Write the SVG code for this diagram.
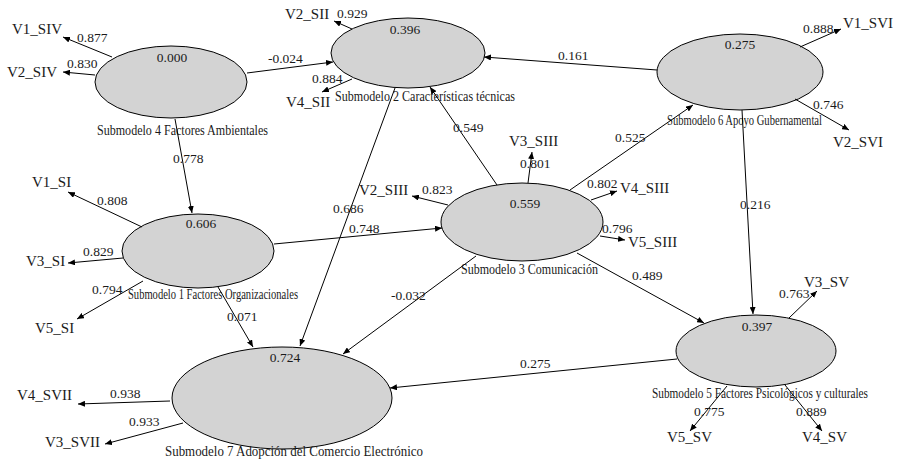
<svg xmlns="http://www.w3.org/2000/svg" width="898" height="467" viewBox="0 0 898 467" font-family="'Liberation Serif', serif">
<style>
.bg{fill:#fff}
.node ellipse{fill:#d3d3d3;stroke:#000;stroke-width:1}
text{font-family:'Liberation Serif','Times New Roman',serif;fill:#1a1a1a}
.v{font-size:15px}
.n{font-size:13.5px}
.t{font-size:15px}
.c line{stroke:#000;stroke-width:1;marker-end:url(#ah)}
</style>
<defs>
<marker id="ah" markerUnits="userSpaceOnUse" markerWidth="8" markerHeight="6" refX="7" refY="3" orient="auto">
<path d="M0,0 L7,3 L0,6 Z" fill="#000"/>
</marker>
</defs>
<rect class="bg" x="0" y="0" width="898" height="467"/>

<g id="e4" class="node">
<ellipse cx="171" cy="82" rx="76" ry="36"/>
<text class="n" x="172" y="62" text-anchor="middle">0.000</text>
<text class="t" x="97" y="135" textLength="171" lengthAdjust="spacingAndGlyphs">Submodelo 4 Factores Ambientales</text>
</g>
<g id="e2" class="node">
<ellipse cx="408" cy="53" rx="77" ry="35"/>
<text class="n" x="405" y="34" text-anchor="middle">0.396</text>
<text class="t" x="335" y="101" textLength="180" lengthAdjust="spacingAndGlyphs">Submodelo 2 Características técnicas</text>
</g>
<g id="e6" class="node">
<ellipse cx="740" cy="72" rx="83" ry="38"/>
<text class="n" x="740" y="49" text-anchor="middle">0.275</text>
<text class="t" x="667" y="125" textLength="155" lengthAdjust="spacingAndGlyphs">Submodelo 6 Apoyo Gubernamental</text>
</g>
<g id="e1" class="node">
<ellipse cx="198" cy="251" rx="76" ry="37"/>
<text class="n" x="201" y="228" text-anchor="middle">0.606</text>
<text class="t" x="128" y="299" textLength="170" lengthAdjust="spacingAndGlyphs">Submodelo 1 Factores Organizacionales</text>
</g>
<g id="e3" class="node">
<ellipse cx="522" cy="222" rx="81" ry="39"/>
<text class="n" x="525" y="208" text-anchor="middle">0.559</text>
<text class="t" x="461" y="274" textLength="137" lengthAdjust="spacingAndGlyphs">Submodelo 3 Comunicación</text>
</g>
<g id="e5" class="node">
<ellipse cx="756" cy="351" rx="80" ry="36"/>
<text class="n" x="757" y="331" text-anchor="middle">0.397</text>
<text class="t" x="652" y="398" textLength="216" lengthAdjust="spacingAndGlyphs">Submodelo 5 Factores Psicológicos y culturales</text>
</g>
<g id="e7" class="node">
<ellipse cx="282" cy="398" rx="110" ry="51"/>
<text class="n" x="285" y="362" text-anchor="middle">0.724</text>
<text class="t" x="165" y="456" textLength="258" lengthAdjust="spacingAndGlyphs">Submodelo 7 Adopción del Comercio Electrónico</text>
</g>

<g id="indicators">
<text class="v" x="12" y="34">V1_SIV</text>
<text class="v" x="7" y="77">V2_SIV</text>
<text class="v" x="285" y="19">V2_SII</text>
<text class="v" x="286" y="107">V4_SII</text>
<text class="v" x="843" y="28">V1_SVI</text>
<text class="v" x="833" y="147">V2_SVI</text>
<text class="v" x="32" y="187">V1_SI</text>
<text class="v" x="26" y="266">V3_SI</text>
<text class="v" x="35" y="333">V5_SI</text>
<text class="v" x="509" y="146">V3_SIII</text>
<text class="v" x="359" y="195">V2_SIII</text>
<text class="v" x="620" y="193">V4_SIII</text>
<text class="v" x="628" y="247">V5_SIII</text>
<text class="v" x="804" y="287">V3_SV</text>
<text class="v" x="667" y="442">V5_SV</text>
<text class="v" x="802" y="442">V4_SV</text>
<text class="v" x="17" y="400">V4_SVII</text>
<text class="v" x="45" y="447">V3_SVII</text>
</g>

<g id="connectors" class="c">
<line x1="112" y1="57" x2="63" y2="37"/>
<line x1="95" y1="75" x2="63" y2="72"/>
<line x1="247" y1="73" x2="333" y2="62"/>
<line x1="175" y1="119" x2="192" y2="213"/>
<line x1="352" y1="29" x2="334" y2="21"/>
<line x1="352" y1="79" x2="322" y2="92"/>
<line x1="657" y1="70" x2="484" y2="57"/>
<line x1="800" y1="47" x2="841" y2="29"/>
<line x1="795" y1="99" x2="849" y2="130"/>
<line x1="570" y1="190" x2="693" y2="105"/>
<line x1="742" y1="110" x2="753" y2="314"/>
<line x1="142" y1="227" x2="68" y2="192"/>
<line x1="123" y1="258" x2="68" y2="263"/>
<line x1="143" y1="281" x2="77" y2="319"/>
<line x1="274" y1="244" x2="442" y2="228"/>
<line x1="218" y1="287" x2="253" y2="347"/>
<line x1="395" y1="88" x2="300" y2="346"/>
<line x1="497" y1="185" x2="430" y2="87"/>
<line x1="528" y1="183" x2="532" y2="152"/>
<line x1="448" y1="205" x2="412" y2="196"/>
<line x1="591" y1="200" x2="617" y2="191"/>
<line x1="600" y1="236" x2="625" y2="240"/>
<line x1="476" y1="256" x2="343" y2="354"/>
<line x1="577" y1="253" x2="704" y2="323"/>
<line x1="677" y1="359" x2="390" y2="388"/>
<line x1="789" y1="318" x2="817" y2="291"/>
<line x1="727" y1="386" x2="690" y2="431"/>
<line x1="785" y1="385" x2="822" y2="431"/>
<line x1="170" y1="401" x2="78" y2="404"/>
<line x1="183" y1="423" x2="105" y2="444"/>
</g>

<g id="labels">
<text class="n" x="77" y="42">0.877</text>
<text class="n" x="67" y="68">0.830</text>
<text class="n" x="268" y="63">-0.024</text>
<text class="n" x="173" y="163">0.778</text>
<text class="n" x="337" y="18">0.929</text>
<text class="n" x="312" y="83">0.884</text>
<text class="n" x="558" y="60">0.161</text>
<text class="n" x="803" y="33">0.888</text>
<text class="n" x="813" y="109">0.746</text>
<text class="n" x="615" y="142">0.525</text>
<text class="n" x="740" y="209">0.216</text>
<text class="n" x="97" y="205">0.808</text>
<text class="n" x="83" y="256">0.829</text>
<text class="n" x="92" y="294">0.794</text>
<text class="n" x="349" y="233">0.748</text>
<text class="n" x="227" y="321">0.071</text>
<text class="n" x="333" y="213">0.686</text>
<text class="n" x="453" y="132">0.549</text>
<text class="n" x="520" y="168">0.801</text>
<text class="n" x="422" y="194">0.823</text>
<text class="n" x="587" y="188">0.802</text>
<text class="n" x="602" y="233">0.796</text>
<text class="n" x="391" y="300">-0.032</text>
<text class="n" x="632" y="280">0.489</text>
<text class="n" x="520" y="368">0.275</text>
<text class="n" x="779" y="298">0.763</text>
<text class="n" x="694" y="416">0.775</text>
<text class="n" x="796" y="416">0.889</text>
<text class="n" x="110" y="398">0.938</text>
<text class="n" x="129" y="426">0.933</text>
</g>
</svg>
